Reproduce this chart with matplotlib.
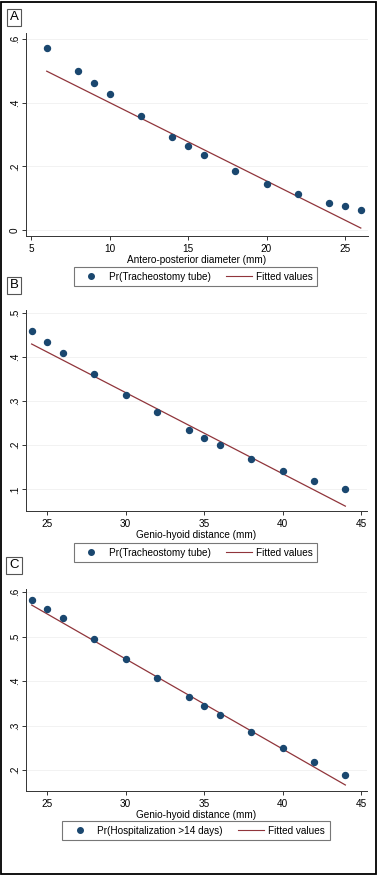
import matplotlib
matplotlib.use("Agg")
import matplotlib.pyplot as plt
import matplotlib.patches as patches
from matplotlib.lines import Line2D

plt.rcParams['font.family'] = ['Liberation Sans', 'DejaVu Sans']

W, H = 377, 875
DOT = '#1a476f'
FIT = '#90353b'

# ---- data ----
a_x = [6, 8, 9, 10, 12, 14, 15, 16, 18, 20, 22, 24, 25, 26]
a_y = [0.572, 0.499, 0.463, 0.427, 0.357, 0.292, 0.263, 0.236,
       0.186, 0.146, 0.113, 0.086, 0.074, 0.064]
a_fit_x = [6, 26]
a_fit_y = [0.499, 0.006]

b_x = [24, 25, 26, 28, 30, 32, 34, 35, 36, 38, 40, 42, 44]
b_y = [0.458, 0.433, 0.409, 0.360, 0.314, 0.274, 0.234, 0.216,
       0.200, 0.169, 0.142, 0.120, 0.100]
b_fit_x = [24, 44]
b_fit_y = [0.429, 0.062]

c_x = [24, 25, 26, 28, 30, 32, 34, 35, 36, 38, 40, 42, 44]
c_y = [0.582, 0.561, 0.541, 0.495, 0.450, 0.407, 0.365, 0.345,
       0.324, 0.286, 0.251, 0.219, 0.190]
c_fit_x = [24, 44]
c_fit_y = [0.571, 0.167]

a_yticks = [0, 0.2, 0.4, 0.6]
a_ylabels = ['0', '.2', '.4', '.6']
a_xticks = [5, 10, 15, 20, 25]
b_yticks = [0.1, 0.2, 0.3, 0.4, 0.5]
b_ylabels = ['.1', '.2', '.3', '.4', '.5']
c_yticks = [0.2, 0.3, 0.4, 0.5, 0.6]
c_ylabels = ['.2', '.3', '.4', '.5', '.6']
bc_xticks = [25, 30, 35, 40, 45]

panels = [
    # label, x, y, fit x, fit y, xlim, ylim, yticks, ylabels, xticks, xlabel, legend text,
    # axes box in px (left, top, right, bottom), label box centre, legend centre
    ('A', a_x, a_y, a_fit_x, a_fit_y, (4.68, 26.46), (-0.019, 0.619),
     a_yticks, a_ylabels, a_xticks, 'Antero-posterior diameter (mm)',
     'Pr(Tracheostomy tube)', (26, 33, 368, 236), (14, 17.5), (195.5, 276.5)),
    ('B', b_x, b_y, b_fit_x, b_fit_y, (23.64, 45.38), (0.051, 0.506),
     b_yticks, b_ylabels, bc_xticks, 'Genio-hyoid distance (mm)',
     'Pr(Tracheostomy tube)', (26, 310, 367, 511), (14, 285.5), (195.5, 552.5)),
    ('C', c_x, c_y, c_fit_x, c_fit_y, (23.64, 45.38), (0.1535, 0.607),
     c_yticks, c_ylabels, bc_xticks, 'Genio-hyoid distance (mm)',
     'Pr(Hospitalization >14 days)', (26, 589, 367, 791), (14, 565.5), (196, 830.5)),
]

fig = plt.figure(figsize=(W / 100, H / 100), dpi=100)

for (lab, xs, ys, fx, fy, xlim, ylim, yt, yl, xt, xlab, legtxt,
     box, labpos, legpos) in panels:
    l, t, r, b = box
    ax = fig.add_axes([l / W, 1 - b / H, (r - l) / W, (b - t) / H])
    ax.plot(fx, fy, color=FIT, lw=0.9, zorder=2)
    ax.plot(xs, ys, 'o', color=DOT, ms=4.3, mec=DOT, zorder=3)
    ax.set_xlim(*xlim)
    ax.set_ylim(*ylim)
    ax.set_xticks(xt)
    ax.set_yticks(yt)
    ax.set_yticklabels(yl, rotation=90, va='center')
    ax.tick_params(direction='out', length=3, width=0.7, labelsize=7.2,
                   color='#333333', pad=2.5)
    ax.tick_params(axis='y', pad=1.5)
    ax.set_xlabel(xlab, fontsize=7.2, labelpad=1)
    for s in ['top', 'right']:
        ax.spines[s].set_visible(False)
    for s in ['left', 'bottom']:
        ax.spines[s].set_linewidth(0.7)
        ax.spines[s].set_color('#333333')
    ax.grid(axis='y', color='#f0f0f0', lw=0.6)
    ax.set_axisbelow(True)

    handles = [Line2D([], [], ls='none', marker='o', color=DOT, ms=4),
               Line2D([], [], color=FIT, lw=0.8)]
    leg = fig.legend(handles, [legtxt, 'Fitted values'], ncol=2, loc='center',
                     bbox_to_anchor=(legpos[0] / W, 1 - legpos[1] / H),
                     fontsize=7.2, frameon=True, fancybox=False,
                     handlelength=2.6, handletextpad=0.45, columnspacing=1.5,
                     borderpad=0.45, edgecolor='#555555')
    leg.get_frame().set_linewidth(0.8)

    fig.text(labpos[0] / W, 1 - labpos[1] / H, lab, ha='center', va='center',
             fontsize=9.5,
             bbox=dict(boxstyle='square,pad=0.22', fc='white', ec='#555555', lw=0.8))

frame = patches.Rectangle((0.002, 0.001), 0.995, 0.997, transform=fig.transFigure,
                          fill=False, ec='black', lw=1.3)
fig.patches.append(frame)

fig.savefig('out.png', dpi=100)
